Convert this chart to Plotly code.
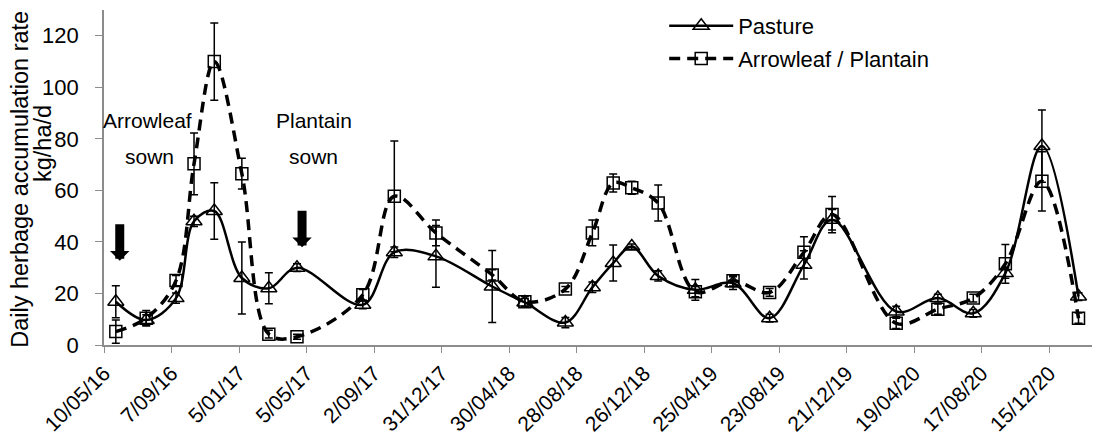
import plotly.graph_objects as go

dates = ["2016-05-31", "2016-07-24", "2016-09-15", "2016-10-17", "2016-11-22",
         "2017-01-10", "2017-02-27", "2017-04-18", "2017-08-13", "2017-10-08",
         "2017-12-21", "2018-03-31", "2018-05-28", "2018-08-08", "2018-09-25",
         "2018-11-01", "2018-12-04", "2019-01-20", "2019-03-27", "2019-06-02",
         "2019-08-06", "2019-10-06", "2019-11-25", "2020-03-18", "2020-05-31",
         "2020-08-02", "2020-09-28", "2020-12-02", "2021-02-05"]

pasture = [16.8, 9.7, 18.2, 48, 52, 26, 22, 30, 15.6, 36,
           34.4, 22.7, 16.5, 8.7, 22.4, 31.8, 38.2, 26.8, 21.4, 24,
           10.4, 31.1, 48.6, 13, 18.2, 12.3, 27.9, 77.2, 18.8]
pasture_err = [6.2, 2, 2, 2, 11, 14, 6, 1.5, 1.5, 2,
               12, 14, 1.5, 2, 2, 7, 1, 2, 4, 2.5,
               1.5, 5.5, 4, 2, 1.5, 1.5, 2, 14, 1.5]

arrowleaf = [5.2, 10.4, 25, 70.3, 110, 66.5, 4.2, 3.2, 19.5, 57.7,
             43.5, 27.2, 16.8, 21.7, 43.5, 62.9, 61, 55.1, 20.7, 24.9,
             20.4, 36, 50.6, 8.4, 13.9, 18.2, 31.5, 63.5, 10.4]
arrowleaf_err = [4.5, 3, 2, 12, 15, 6, 1.5, 1, 2, 21.5,
                 5, 2, 2, 1, 5, 3.5, 2.5, 7, 2, 2,
                 1.5, 6, 7, 2, 2, 1.5, 7.5, 11.5, 2]

tick_dates = ["2016-05-10", "2016-09-07", "2017-01-05", "2017-05-05", "2017-09-02",
              "2017-12-31", "2018-04-30", "2018-08-28", "2018-12-26", "2019-04-25",
              "2019-08-23", "2019-12-21", "2020-04-19", "2020-08-17", "2020-12-15"]
tick_labels = ["10/05/16", "7/09/16", "5/01/17", "5/05/17", "2/09/17",
               "31/12/17", "30/04/18", "28/08/18", "26/12/18", "25/04/19",
               "23/08/19", "21/12/19", "19/04/20", "17/08/20", "15/12/20"]

y_ticks = [0, 20, 40, 60, 80, 100, 120]

FONT = "Liberation Sans, Arial, sans-serif"
AXIS_GREY = "#8c8c8c"

fig = go.Figure()
fig.add_trace(go.Scatter(
    x=dates, y=pasture, name="Pasture", mode="lines+markers",
    line=dict(color="black", width=2.5, shape="spline", smoothing=1),
    marker=dict(symbol="triangle-up-open", size=14, color="black", line=dict(width=1.5, color="black")),
    error_y=dict(type="data", array=pasture_err, visible=True, color="black", thickness=1.5, width=4),
    legendgroup="a",
))
fig.add_trace(go.Scatter(
    x=dates, y=arrowleaf, name="Arrowleaf / Plantain", mode="lines+markers",
    line=dict(color="black", width=3.5, dash="11px,7px", shape="spline", smoothing=1),
    marker=dict(symbol="square-open", size=12, color="black", line=dict(width=1.5, color="black")),
    error_y=dict(type="data", array=arrowleaf_err, visible=True, color="black", thickness=1.5, width=4),
    legendgroup="b",
))

title_font = dict(size=23.5, color="black", family=FONT)
annotations = [
    dict(x="2016-07-27", y=87.3, text="Arrowleaf", showarrow=False),
    dict(x="2016-07-29", y=73, text="sown", showarrow=False),
    dict(x="2017-05-18", y=87.3, text="Plantain", showarrow=False),
    dict(x="2017-05-18", y=73, text="sown", showarrow=False),
    dict(x=0, xref="paper", y=0.493, yref="paper", text="Daily herbage accumulation rate",
         textangle=-90, showarrow=False, xanchor="center", yanchor="middle", xshift=-84,
         font=title_font),
    dict(x=0, xref="paper", y=0.60, yref="paper", text="kg/ha/d",
         textangle=-90, showarrow=False, xanchor="center", yanchor="middle", xshift=-61,
         font=title_font),
]
for tip_x, tip_y in [("2016-06-07", 32.7), ("2017-04-27", 37.9)]:
    annotations.append(dict(x=tip_x, y=tip_y, text="", showarrow=True, arrowhead=1,
                            arrowsize=0.36, arrowwidth=9, arrowcolor="black",
                            ax=0, ay=-38, standoff=0))

fig.update_layout(
    width=1098, height=442,
    margin=dict(l=104, r=6, t=10, b=97, autoexpand=False),
    paper_bgcolor="white", plot_bgcolor="white",
    font=dict(family=FONT, size=21, color="black"),
    showlegend=True,
    legend=dict(x=0.567, y=1.015, xanchor="left", yanchor="top", bgcolor="rgba(0,0,0,0)",
                font=dict(size=22), traceorder="grouped", tracegroupgap=1, itemwidth=64),
    annotations=annotations,
)
fig.update_xaxes(
    type="date", range=["2016-05-10", "2021-03-01"], automargin=False,
    tickvals=tick_dates, ticktext=tick_labels, tickangle=-45,
    tickfont=dict(size=21, color="black"),
    showline=True, linecolor=AXIS_GREY, linewidth=1.5,
    ticks="outside", ticklen=6, tickcolor=AXIS_GREY, showgrid=False, zeroline=False,
)
fig.update_yaxes(
    range=[0, 130], tickvals=y_ticks, ticktext=[f"{v}\u00a0\u00a0" for v in y_ticks],
    automargin=False,
    tickfont=dict(size=22, color="black"),
    showline=True, linecolor=AXIS_GREY, linewidth=1.5,
    ticks="outside", ticklen=7, tickcolor=AXIS_GREY, showgrid=False, zeroline=False,
)

fig.write_html("out.html", config={"displayModeBar": False},
               post_script="document.body.style.margin='0';")
